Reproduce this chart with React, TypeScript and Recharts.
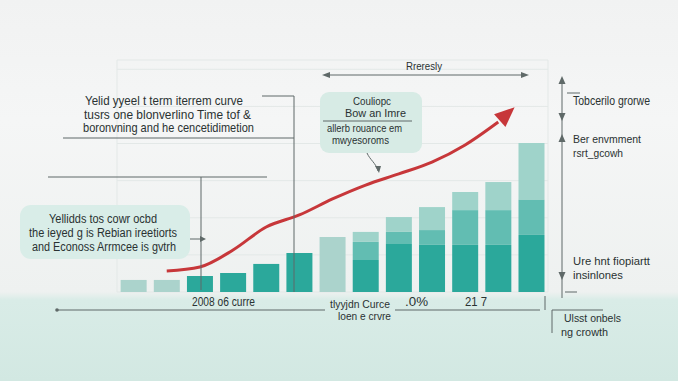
import React from 'react';
import { ComposedChart, Bar, Line, XAxis, YAxis, CartesianGrid } from 'recharts';

const categories = ['p1', 'p2', 'p3', 'p4', 'p5', 'p6', 'p7', 'p8', 'p9', 'p10', 'p11', 'p12', 'p13'];
const coreValues = [0, 0, 6.9, 8.2, 12.1, 16.8, 0, 13.8, 20.7, 20.3, 20.3, 20.3, 24.6];
const midValues = [0, 0, 0, 0, 0, 0, 0, 7.8, 5.2, 6.4, 15.0, 15.0, 15.1];
const lightValues = [0, 0, 0, 0, 0, 0, 0, 4.3, 6.4, 9.9, 7.8, 12.1, 24.5];
const paleValues = [5.2, 5.2, 0, 0, 0, 0, 23.7, 0, 0, 0, 0, 0, 0];
const trendValues = [null, 9.1, 10.8, 18.1, 28.0, 33.2, 40.1, 46.1, 50.9, 56.0, 63.4, 73.3, null];
const yTicks = [0, 8, 16, 24, 32, 40, 48, 56, 64, 72, 80, 88, 96];

const data = categories.map((cat, i) => ({
  cat,
  core: coreValues[i],
  mid: midValues[i],
  light: lightValues[i],
  pale: paleValues[i],
  trend: trendValues[i],
}));

const FONT = '"Liberation Sans", Arial, sans-serif';
const INK = '#2a3232';
const LINE = '#5f6968';

const T = ({ x, y, w, s = 12.5, children, anchor }: any) => (
  <text x={x} y={y} fontSize={s} fill={INK} fontFamily={FONT} textLength={w} lengthAdjust="spacingAndGlyphs" textAnchor={anchor}>
    {children}
  </text>
);

const ArrowDot = (props: any) => {
  const { cx, cy, index } = props;
  if (index !== 11 || cx == null) return <g key={`d${index}`} />;
  return (
    <g key={`d${index}`} transform={`translate(${cx},${cy}) rotate(-42)`}>
      <polygon points="22,0 2,-8.5 2,8.5" fill="#c7373a" />
    </g>
  );
};

const Overlay = () => (
  <svg width={678} height={381} style={{ position: 'absolute', left: 0, top: 0, pointerEvents: 'none' }}>
    <g stroke={LINE} strokeWidth={1} fill="none">
      <polyline points="262,96 294,96 294,292" />
      <line x1={63} y1={138} x2={294} y2={138} />
      <line x1={48} y1={177} x2={267} y2={177} />
      <line x1={201} y1={177} x2={201} y2={290} />
      <line x1={190} y1={239} x2={204} y2={239} />
      <line x1={325} y1={75} x2={526} y2={75} />
      <line x1={562} y1={79} x2={562} y2={298} />
      <line x1={567} y1={93} x2={580} y2={93} />
      <line x1={565} y1={292} x2={577} y2={292} />
      <line x1={58} y1={310} x2={325} y2={310} />
      <line x1={395} y1={310} x2={540} y2={310} />
      <line x1={545} y1={296} x2={545} y2={310} />
      <polyline points="603,310 552,310 552,333" />
      <path d="M367,153 C370,160 376,163 378,171" />
    </g>
    <g fill={LINE}>
      <polygon points="322,75 330,72 330,78" />
      <polygon points="529,75 521,72 521,78" />
      <polygon points="562,76 558.5,84 565.5,84" />
      <polygon points="562,121 558.5,113 565.5,113" />
      <polygon points="562,134 558.5,142 565.5,142" />
      <polygon points="562,280 558.5,272 565.5,272" />
      <circle cx={57} cy={310} r={1.8} />
      <polygon points="206,239 200,236 200,242" />
      <polygon points="379,173 375,166 381,166" />
    </g>
    <rect x={320} y={92} width={102} height={61} rx={9} fill="#d7ebe5" />
    <line x1={323} y1={121} x2={412} y2={121} stroke={LINE} strokeWidth={1} />
    <T x={353} y={105} w={38} s={11}>Couliopc</T>
    <T x={345} y={117} w={61} s={11}>Bow an Imre</T>
    <T x={327} y={132} w={75} s={10.5}>allerb rouance em</T>
    <T x={332} y={144} w={57} s={10.5}>mwyesoroms</T>
    <rect x={20} y={205} width={170} height={54} rx={11} fill="#d9ede8" />
    <T x={49} y={223} w={108} s={12}>Yellidds tos cowr ocbd</T>
    <T x={29} y={237} w={148} s={12}>the ieyed g is Rebian ireetiorts</T>
    <T x={32} y={251} w={144} s={12}>and Econoss Arrmcee is gvtrh</T>
    <T x={85} y={105} w={158} s={13}>Yelid yyeel t term iterrem curve</T>
    <T x={84} y={118.5} w={167} s={13}>tusrs one blonverlino Time tof &amp;</T>
    <T x={83} y={132} w={171} s={13}>boronvning and he cencetidimetion</T>
    <T x={406} y={70} w={36} s={11.5}>Rreresly</T>
    <T x={573} y={105} w={77} s={12}>Tobcerilo grorwe</T>
    <T x={573} y={143} w={68} s={11.5}>Ber envmment</T>
    <T x={573} y={157} w={50} s={11.5}>rsrt_gcowh</T>
    <T x={573} y={265} w={77} s={11.5}>Ure hnt fiopiartt</T>
    <T x={573} y={279} w={50} s={11.5}>insinlones</T>
    <T x={564} y={322} w={57} s={11.5}>Ulsst onbels</T>
    <T x={561} y={336} w={47} s={11.5}>ng crowth</T>
    <T x={192} y={306} w={63} s={12}>2008 o6 curre</T>
    <T x={330} y={308} w={60} s={11}>tlyyjdn Curce</T>
    <T x={338} y={320} w={53} s={11}>loen e crvre</T>
    <T x={405} y={306} w={23} s={12}>.0%</T>
    <T x={465} y={306} w={22} s={12}>21 7</T>
  </svg>
);

export default function App() {
  return (
    <div
      style={{
        position: 'absolute',
        left: 0,
        top: 0,
        width: 678,
        height: 381,
        overflow: 'hidden',
        background:
          'linear-gradient(to bottom, #f1f2f2 0px, #f5f6f6 120px, #eef1f0 292px, #d9ece7 300px, #d2e8e2 381px)',
      }}
    >
      <ComposedChart
        width={678}
        height={381}
        data={data}
        margin={{ top: 60, right: 130, bottom: 89, left: 117 }}
        barCategoryGap="11%"
      >
        <CartesianGrid stroke="#e3e8e7" strokeWidth={1} />
        <XAxis dataKey="cat" tick={false} tickLine={false} axisLine={{ stroke: '#56605f', strokeWidth: 1 }} height={0} />
        <YAxis hide domain={[0, 100]} ticks={yTicks} width={0} />
        <Bar dataKey="pale" stackId="s" fill="#abd3cc" isAnimationActive={false} />
        <Bar dataKey="core" stackId="s" fill="#2ba89b" isAnimationActive={false} />
        <Bar dataKey="mid" stackId="s" fill="#62bdb2" isAnimationActive={false} />
        <Bar dataKey="light" stackId="s" fill="#9fd3ca" isAnimationActive={false} />
        <Line
          type="monotone"
          dataKey="trend"
          stroke="#c7373a"
          strokeWidth={3}
          dot={ArrowDot}
          activeDot={false}
          isAnimationActive={false}
        />
      </ComposedChart>
      <Overlay />
    </div>
  );
}
